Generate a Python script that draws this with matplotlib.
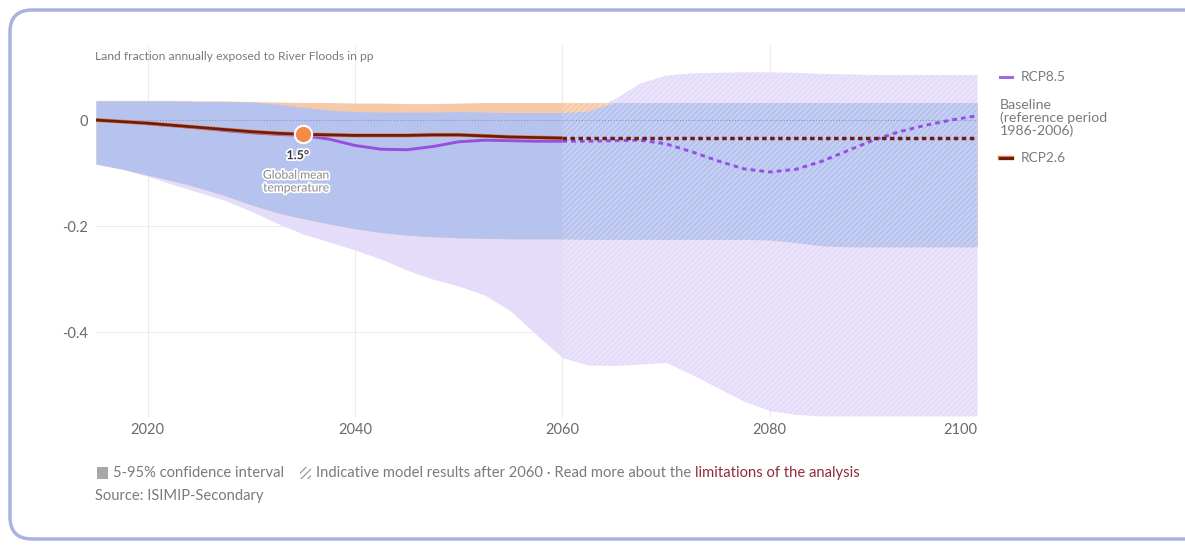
import matplotlib
matplotlib.use("Agg")
import matplotlib.pyplot as plt
import numpy as np
from matplotlib.patches import FancyBboxPatch, Rectangle
from matplotlib.lines import Line2D
import matplotlib.patheffects as pe

plt.rcParams['font.family'] = ['Lato', 'DejaVu Sans']
plt.rcParams['hatch.linewidth'] = 0.9

# ---- data -------------------------------------------------------------
years = np.array([2015, 2017.5, 2020, 2022.5, 2025, 2027.5, 2030, 2032.5, 2035, 2037.5,
                  2040, 2042.5, 2045, 2047.5, 2050, 2052.5, 2055, 2057.5, 2060, 2062.5,
                  2065, 2067.5, 2070, 2072.5, 2075, 2077.5, 2080, 2082.5, 2085, 2087.5,
                  2090, 2092.5, 2095, 2097.5, 2100])

rcp85_mean = np.array([0.0, -0.003, -0.007, -0.011, -0.015, -0.020, -0.024, -0.027, -0.029, -0.036,
                       -0.048, -0.055, -0.056, -0.050, -0.041, -0.038, -0.039, -0.040, -0.040, -0.040,
                       -0.039, -0.038, -0.045, -0.060, -0.077, -0.092, -0.098, -0.093, -0.078, -0.058,
                       -0.038, -0.022, -0.010, 0.000, 0.008])
rcp85_low = np.array([-0.083, -0.093, -0.106, -0.122, -0.137, -0.152, -0.172, -0.195, -0.215, -0.230,
                      -0.245, -0.262, -0.283, -0.300, -0.313, -0.330, -0.360, -0.405, -0.448, -0.462,
                      -0.463, -0.460, -0.457, -0.480, -0.505, -0.530, -0.548, -0.555, -0.558, -0.558,
                      -0.558, -0.558, -0.558, -0.558, -0.558])
rcp85_high = np.array([0.036, 0.036, 0.036, 0.036, 0.035, 0.035, 0.034, 0.030, 0.024, 0.019,
                       0.016, 0.015, 0.015, 0.015, 0.016, 0.015, 0.014, 0.014, 0.014, 0.017,
                       0.040, 0.070, 0.085, 0.089, 0.090, 0.091, 0.091, 0.090, 0.088, 0.087,
                       0.086, 0.086, 0.086, 0.086, 0.086])

rcp26_mean = np.array([0.0, -0.003, -0.006, -0.010, -0.014, -0.018, -0.022, -0.025, -0.027, -0.028,
                       -0.029, -0.029, -0.029, -0.028, -0.028, -0.030, -0.032, -0.033, -0.034, -0.034,
                       -0.034, -0.034, -0.034, -0.034, -0.034, -0.034, -0.034, -0.034, -0.034, -0.034,
                       -0.034, -0.034, -0.034, -0.034, -0.034])
rcp26_low = np.array([-0.083, -0.092, -0.104, -0.115, -0.128, -0.143, -0.160, -0.175, -0.186, -0.196,
                      -0.205, -0.212, -0.217, -0.220, -0.222, -0.223, -0.224, -0.224, -0.224, -0.225,
                      -0.225, -0.225, -0.225, -0.225, -0.225, -0.225, -0.226, -0.231, -0.237, -0.239,
                      -0.239, -0.239, -0.239, -0.239, -0.239])
rcp26_high = np.array([0.037, 0.037, 0.037, 0.037, 0.036, 0.036, 0.035, 0.034, 0.033, 0.033,
                       0.032, 0.032, 0.031, 0.031, 0.032, 0.033, 0.033, 0.033, 0.033, 0.033,
                       0.033, 0.033, 0.033, 0.033, 0.033, 0.033, 0.033, 0.033, 0.033, 0.033,
                       0.033, 0.033, 0.033, 0.033, 0.033])

marker_year = 2035
marker_label = "1.5°"
x_ticks = [2020, 2040, 2060, 2080, 2100]
y_ticks = [0, -0.2, -0.4]
y_ticklabels = ["0", "-0.2", "-0.4"]
indicative_from = 2060

# ---- styling -----------------------------------------------------------
LAV = "#e5dcfa"
ORG = "#f6caa8"
BLUE = "#b7c3ef"
PURP = "#9550e0"
DARK = "#6e1c10"
GRAY = "#7a7a7a"

W, H = 1185, 545
fig = plt.figure(figsize=(W / 100, H / 100), dpi=100)


def fx(px):
    return px / W


def fy(py):
    return 1 - py / H


ax = fig.add_axes([fx(96), fy(417), fx(977) - fx(96), (417 - 45) / H])
ax.set_xlim(2015, 2100)
ax.set_ylim(-0.56, 0.1415)
for s in ax.spines.values():
    s.set_visible(False)

# grid
for xv in x_ticks[:-1]:
    ax.axvline(xv, color="#ececec", lw=0.8, zorder=0)
for yv in y_ticks[1:]:
    ax.axhline(yv, color="#ededed", lw=0.8, zorder=0)

# confidence bands; overlap of both scenarios shown in blue
ax.fill_between(years, rcp85_low, rcp85_high, color=LAV, lw=0, zorder=1)
ax.fill_between(years, rcp26_low, rcp26_high, color=ORG, lw=0, zorder=1.1)
ov_lo = np.maximum(rcp85_low, rcp26_low)
ov_hi = np.minimum(rcp85_high, rcp26_high)
ax.fill_between(years, ov_lo, ov_hi, where=ov_hi > ov_lo, interpolate=True,
                color=BLUE, lw=0, zorder=1.2)

# hatch for indicative period
m = years >= indicative_from
ax.fill_between(years[m], np.minimum(rcp85_low, rcp26_low)[m],
                np.maximum(rcp85_high, rcp26_high)[m],
                facecolor="none", edgecolor=(1, 1, 1, 0.33), hatch="//////", lw=0, zorder=1.5)

# baseline
ax.axhline(0, color="#8f93b8", ls=(0, (1, 1.6)), lw=0.8, zorder=2)

# mean lines
s = years <= indicative_from
d = years >= indicative_from
ax.plot(years[s], rcp85_mean[s], color=PURP, lw=2.1, zorder=4, solid_capstyle="butt")
ax.plot(years[d], rcp85_mean[d], color=PURP, lw=2.1, ls=(0, (1.6, 1.4)), zorder=4)
ax.plot(years[s], rcp26_mean[s], color=DARK, lw=2.0, zorder=5, solid_capstyle="butt",
        path_effects=[pe.Stroke(linewidth=2.9, foreground="#e0884e"), pe.Normal()])
ax.plot(years[d], rcp26_mean[d], color=DARK, lw=2.5, ls=(0, (1.3, 1.0)), zorder=5)

# 1.5 degree marker
my = rcp26_mean[years == marker_year][0]
ax.plot([marker_year], [my], "o", ms=12.5, color="#f58b4b", mec="white", mew=1.5, zorder=6)
halo = [pe.withStroke(linewidth=2.5, foreground="white")]
ax.annotate(marker_label, (marker_year, my), xytext=(-4, -15), textcoords="offset points",
            ha="center", va="center", fontsize=9, fontweight="bold", color="#3a3a3a",
            path_effects=halo, zorder=7)
ax.annotate("Global mean\ntemperature", (marker_year, my), xytext=(-5, -34),
            textcoords="offset points", ha="center", va="center", fontsize=8.7,
            color="#8a8a8a", linespacing=1.2, path_effects=halo, zorder=7)

# ticks
ax.set_xticks(x_ticks)
ax.set_xticklabels([str(x) for x in x_ticks])
ax.set_yticks(y_ticks)
ax.set_yticklabels(y_ticklabels)
ax.tick_params(length=0, labelsize=10.5, labelcolor="#6a6a6a")
ax.tick_params(axis="x", pad=4)
ax.tick_params(axis="y", pad=6)
ax.get_xticklabels()[-1].set_ha("right")

# title
fig.text(fx(95), fy(57), "Land fraction annually exposed to River Floods in pp",
         fontsize=8.7, color=GRAY, va="center", ha="left")

# legend on the right
def legend_dash(py, color, outline=None):
    if outline:
        fig.add_artist(Line2D([fx(1000), fx(1012)], [fy(py), fy(py)], color=outline, lw=3.2))
    fig.add_artist(Line2D([fx(1000), fx(1012)], [fy(py), fy(py)], color=color, lw=2.2))


legend_dash(77, "#9a6ee0")
fig.text(fx(1021), fy(77), "RCP8.5", fontsize=9.8, color=GRAY, va="center")
fig.text(fx(1000), fy(118), "Baseline\n(reference period\n1986-2006)", fontsize=10.2,
         color=GRAY, va="center", linespacing=1.08)
legend_dash(158, DARK, outline="#e0884e")
fig.text(fx(1021), fy(158), "RCP2.6", fontsize=9.8, color=GRAY, va="center")

# footer
FS = 10.6
fig.add_artist(Rectangle((fx(97), fy(479)), fx(11), 12 / H, transform=fig.transFigure,
                         facecolor="#a8a8a8", edgecolor="none"))
fig.text(fx(113), fy(473), "5-95% confidence interval", fontsize=FS, color=GRAY, va="center")
fig.add_artist(Rectangle((fx(300), fy(479)), fx(11), 12 / H, transform=fig.transFigure,
                         facecolor="white", edgecolor="#9a9a9a", hatch="/////", lw=0))
t1 = fig.text(fx(316), fy(473), "Indicative model results after 2060 · Read more about the ",
              fontsize=FS, color=GRAY, va="center")
fig.canvas.draw()
bb = t1.get_window_extent()
fig.text(bb.x1 / W, fy(473), "limitations of the analysis", fontsize=FS, color="#8e2b3b",
         va="center")
fig.text(fx(95), fy(496), "Source: ISIMIP-Secondary", fontsize=FS, color=GRAY, va="center")

# card border
fig.add_artist(FancyBboxPatch((10, 6), 1220, 529, boxstyle="round,pad=0,rounding_size=22",
                              transform=None, facecolor="none", edgecolor="#aab3e0", lw=2.5))

fig.savefig("out.png", dpi=100, facecolor="white")
